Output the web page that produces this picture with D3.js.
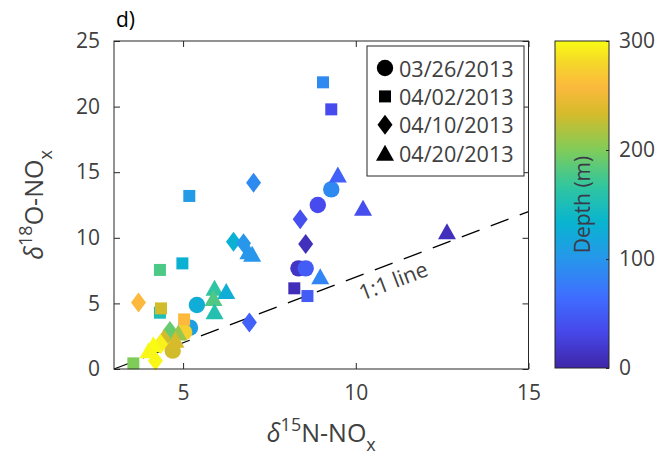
<!DOCTYPE html>
<html>
<head>
<meta charset="utf-8">
<script src="https://cdn.jsdelivr.net/npm/d3@7"></script>
<style>
  body { margin: 0; background: #fff; }
  svg { display: block; font-family: "Open Sans", sans-serif; }
</style>
</head>
<body>
<svg id="chart" width="669" height="459"></svg>
<script>
// Sampling dates (one marker shape per date)
const dates = ["03/26/2013", "04/02/2013", "04/10/2013", "04/20/2013"];
const shapes = ["circle", "square", "diamond", "triangle"];

// 03/26/2013
const n15_0326 = [9.29, 8.90, 8.34, 8.55, 5.40, 5.20, 5.03, 4.70];
const o18_0326 = [13.69, 12.50, 7.67, 7.67, 4.88, 3.15, 2.80, 1.40];
const depth_0326 = [90, 35, 15, 50, 125, 110, 275, 232];

// 04/02/2013
const n15_0402 = [9.05, 9.29, 5.18, 4.98, 4.33, 8.22, 8.60, 4.33, 4.36, 5.03, 3.56];
const o18_0402 = [21.85, 19.79, 13.19, 8.05, 7.55, 6.15, 5.56, 4.29, 4.62, 3.78, 0.43];
const depth_0402 = [90, 35, 105, 130, 178, 8, 50, 150, 232, 258, 200];

// 04/10/2013
const n15_0410 = [7.04, 8.39, 8.55, 6.46, 6.75, 6.92, 3.71, 4.62, 4.45, 4.35, 4.20];
const o18_0410 = [14.20, 11.41, 9.53, 9.70, 9.58, 3.55, 5.06, 2.90, 2.25, 1.90, 0.62];
const depth_0410 = [90, 40, 10, 130, 100, 55, 258, 190, 232, 295, 298];

// 04/20/2013
const n15_0420 = [9.48, 10.21, 12.64, 8.97, 6.89, 7.00, 5.91, 6.25, 5.88, 5.91, 4.86, 4.78, 4.14, 4.00];
const o18_0420 = [14.79, 12.25, 10.47, 7.04, 8.94, 8.75, 6.15, 5.90, 5.38, 4.37, 2.75, 2.20, 1.85, 1.40];
const depth_0420 = [55, 38, 10, 85, 100, 100, 165, 125, 180, 155, 210, 235, 300, 298];

// Axis ticks
const xTicks = [5, 10, 15];
const yTicks = [0, 5, 10, 15, 20, 25];
const depthTicks = [0, 100, 200, 300];

// Parula-style colormap stops (fraction of range, colour)
const cmapPos = [0, 0.111, 0.222, 0.333, 0.444, 0.556, 0.667, 0.778, 0.86, 0.93, 1];
const cmapCol = ["#3e26a8", "#4748eb", "#3e6fff", "#2796eb", "#08b4d0", "#31c69f",
                 "#80cc59", "#d6bb2a", "#fcb93e", "#f5d52a", "#f9fb15"];

const series = [
  { x: n15_0326, y: o18_0326, d: depth_0326 },
  { x: n15_0402, y: o18_0402, d: depth_0402 },
  { x: n15_0410, y: o18_0410, d: depth_0410 },
  { x: n15_0420, y: o18_0420, d: depth_0420 }
];

const ink = "#262626";
const textInk = "#404040";
const svg = d3.select("#chart");

const plot = { left: 114, right: 528.5, top: 41, bottom: 369 };
const x = d3.scaleLinear().domain([3, 15]).range([plot.left, plot.right]);
const y = d3.scaleLinear().domain([0, 25]).range([plot.bottom, plot.top]);
const color = d3.scaleLinear()
  .domain(cmapPos.map(p => p * 300))
  .range(cmapCol)
  .interpolate(d3.interpolateRgb);

// Marker outlines centred on (0,0)
function markerPath(shape) {
  const p = d3.path();
  if (shape === "circle") {
    p.arc(0, 0, 8.2, 0, 2 * Math.PI);
  } else if (shape === "square") {
    p.rect(-6, -6, 12, 12);
  } else if (shape === "diamond") {
    p.moveTo(0, -10); p.lineTo(7.5, 0); p.lineTo(0, 10); p.lineTo(-7.5, 0); p.closePath();
  } else {
    p.moveTo(0, -8.5); p.lineTo(9, 7.5); p.lineTo(-9, 7.5); p.closePath();
  }
  return p.toString();
}

// 1:1 reference line (offset so it starts at the lower-left corner)
const lineX = [3, 15];
svg.append("line")
  .attr("x1", x(lineX[0])).attr("y1", y(lineX[0] - 3))
  .attr("x2", x(lineX[1])).attr("y2", y(lineX[1] - 3))
  .attr("stroke", "#000").attr("stroke-width", 1.3)
  .attr("stroke-dasharray", "19,12");

const angle = Math.atan2(y(12) - y(0), x(15) - x(3)) * 180 / Math.PI;
svg.append("text")
  .attr("transform", `translate(393,280) rotate(${angle})`)
  .attr("text-anchor", "middle").attr("dominant-baseline", "central")
  .attr("font-size", 21.5).attr("fill", textInk)
  .text("1:1 line");

// Scatter points, one group per sampling date
series.forEach((s, i) => {
  const pts = s.x.map((v, k) => ({ x: v, y: s.y[k], d: s.d[k] }));
  svg.append("g").selectAll("path").data(pts).join("path")
    .attr("d", markerPath(shapes[i]))
    .attr("transform", p => `translate(${x(p.x)},${y(p.y)})`)
    .attr("fill", p => color(p.d));
});

// Axes box
svg.append("rect")
  .attr("x", plot.left).attr("y", plot.top)
  .attr("width", plot.right - plot.left).attr("height", plot.bottom - plot.top)
  .attr("fill", "none").attr("stroke", ink).attr("stroke-width", 1);

const tickLen = 6;
function styleAxis(g) {
  g.select(".domain").remove();
  g.selectAll(".tick line").attr("stroke", ink);
  g.selectAll(".tick text").attr("fill", textInk).attr("font-size", 21)
    .attr("font-family", "'Open Sans', sans-serif");
}
svg.append("g").attr("transform", `translate(0,${plot.bottom})`)
  .call(d3.axisBottom(x).tickValues(xTicks).tickSize(-tickLen).tickPadding(16))
  .call(styleAxis);
svg.append("g").attr("transform", `translate(0,${plot.top})`)
  .call(d3.axisTop(x).tickValues(xTicks).tickSize(-tickLen).tickFormat(""))
  .call(styleAxis);
svg.append("g").attr("transform", `translate(${plot.left},0)`)
  .call(d3.axisLeft(y).tickValues(yTicks).tickSize(-tickLen).tickPadding(14))
  .call(styleAxis);
svg.append("g").attr("transform", `translate(${plot.right},0)`)
  .call(d3.axisRight(y).tickValues(yTicks).tickSize(-tickLen).tickFormat(""))
  .call(styleAxis);

// Axis titles
const xt = svg.append("text")
  .attr("x", (plot.left + plot.right) / 2).attr("y", 442)
  .attr("text-anchor", "middle").attr("font-size", 25).attr("fill", textInk);
xt.append("tspan").attr("font-style", "italic").text("δ");
xt.append("tspan").attr("font-size", 18).attr("dy", -11).text("15");
xt.append("tspan").attr("dy", 11).text("N-NO");
xt.append("tspan").attr("font-size", 18).attr("dy", 9).text("x");

const yt = svg.append("text")
  .attr("transform", `translate(43,${(plot.top + plot.bottom) / 2}) rotate(-90)`)
  .attr("text-anchor", "middle").attr("font-size", 25).attr("fill", textInk);
yt.append("tspan").attr("font-style", "italic").text("δ");
yt.append("tspan").attr("font-size", 18).attr("dy", -11).text("18");
yt.append("tspan").attr("dy", 11).text("O-NO");
yt.append("tspan").attr("font-size", 18).attr("dy", 9).text("x");

// Panel label
svg.append("text").attr("x", 116).attr("y", 27)
  .attr("font-size", 21).attr("fill", "#000").text("d)");

// Legend
const legend = svg.append("g");
legend.append("rect")
  .attr("x", 367).attr("y", 46).attr("width", 157).attr("height", 130)
  .attr("fill", "#fff").attr("stroke", ink).attr("stroke-width", 1);
dates.forEach((dt, i) => {
  const cy = 68 + i * 28.4;
  legend.append("path").attr("d", markerPath(shapes[i]))
    .attr("transform", `translate(385,${cy})`).attr("fill", "#000");
  legend.append("text").attr("x", 399).attr("y", cy)
    .attr("dominant-baseline", "central")
    .attr("font-size", 21.6).attr("fill", textInk).text(dt);
});

// Colorbar
const cb = { left: 555, right: 609, top: 41, bottom: 368 };
const cbScale = d3.scaleLinear().domain([0, 300]).range([cb.bottom, cb.top]);
const grad = svg.append("defs").append("linearGradient")
  .attr("id", "depthGrad").attr("x1", 0).attr("y1", 1).attr("x2", 0).attr("y2", 0);
grad.selectAll("stop").data(d3.range(0, 301, 5)).join("stop")
  .attr("offset", d => d / 300).attr("stop-color", d => color(d));
svg.append("rect")
  .attr("x", cb.left).attr("y", cb.top)
  .attr("width", cb.right - cb.left).attr("height", cb.bottom - cb.top)
  .attr("fill", "url(#depthGrad)").attr("stroke", ink).attr("stroke-width", 1);
svg.append("g").attr("transform", `translate(${cb.right},0)`)
  .call(d3.axisRight(cbScale).tickValues(depthTicks).tickSize(-3).tickPadding(10))
  .call(styleAxis);
svg.append("text")
  .attr("transform", `translate(${(cb.left + cb.right) / 2},${cbScale(150)}) rotate(-90)`)
  .attr("text-anchor", "middle").attr("dominant-baseline", "central")
  .attr("font-size", 21).attr("fill", "#3a3a4a").text("Depth (m)");
</script>
</body>
</html>
